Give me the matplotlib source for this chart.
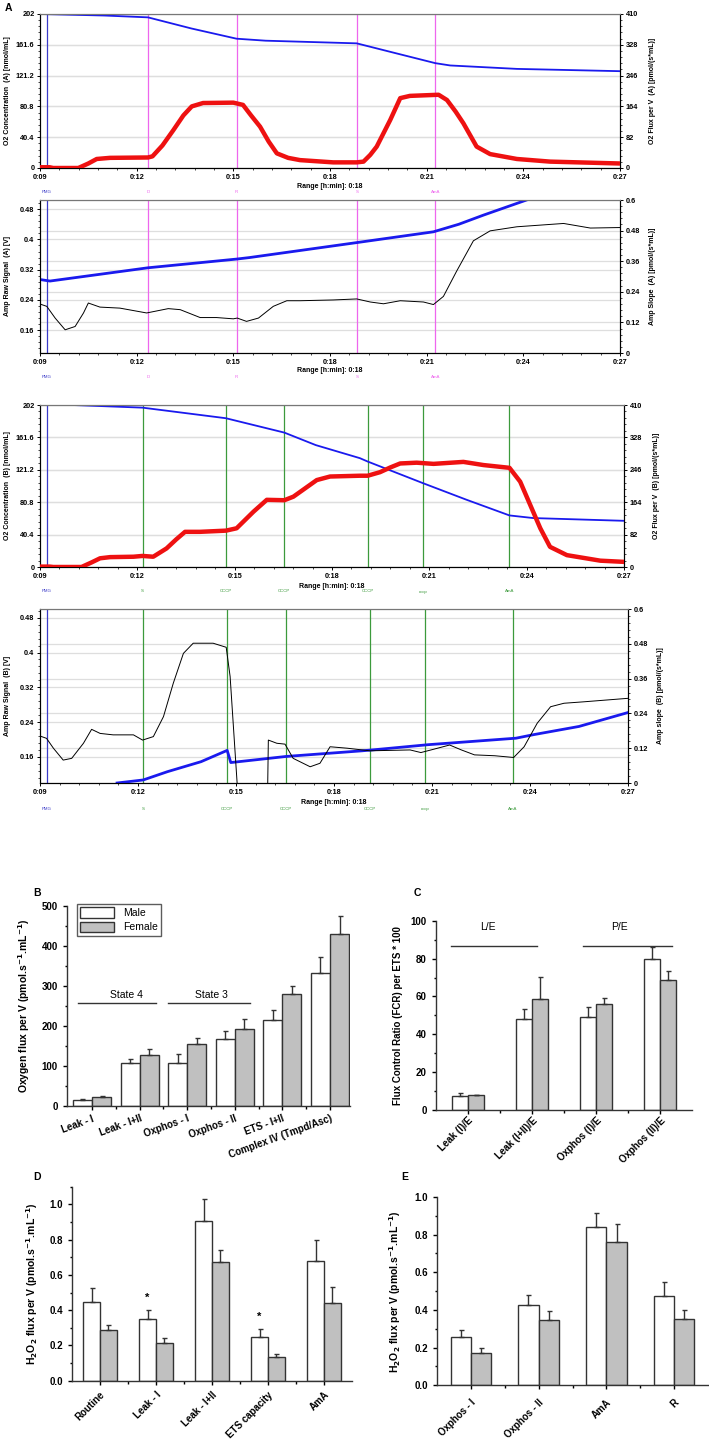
import numpy as np
import matplotlib.pyplot as plt
from matplotlib.ticker import MultipleLocator, AutoMinorLocator, FixedLocator
from matplotlib.transforms import ScaledTranslation, blended_transform_factory

plt.rcParams['font.family'] = ['Liberation Sans', 'DejaVu Sans']
plt.rcParams['font.weight'] = 'bold'
plt.rcParams['axes.labelweight'] = 'bold'
plt.rcParams['mathtext.default'] = 'bf'

# ---------------- panel A, chamber A ----------------
a_marks = ['PMG', 'D', 'R', 'S', 'AmA']
a_mark_t = [9.21, 12.35, 15.1, 18.83, 21.27]

a_o2_t = [9.0, 11.0, 12.35, 13.7, 15.1, 16.0, 18.83, 20.0, 21.27, 21.73, 23.8, 27.0]
a_o2 = [202, 200, 197.6, 183, 169.6, 167, 163.5, 151, 137.5, 134.5, 130, 127]

a_flux_t = [9.0, 9.3, 9.41, 10.19, 10.5, 10.76, 11.17, 12.35, 12.49, 12.8, 13.14, 13.45,
            13.71, 14.06, 15.0, 15.3, 15.55, 15.83, 16.1, 16.35, 16.7, 17.07, 18.1, 18.83,
            19.04, 19.25, 19.45, 19.87, 20.18, 20.48, 21.37, 21.63, 21.9, 22.14, 22.55,
            22.97, 23.8, 24.83, 27.0]
a_flux = [2, 2, 0, 0, 12, 24, 27, 28, 31, 60, 101, 140, 164, 173, 174, 168, 140, 110, 70,
          39, 27, 21, 15, 15, 17, 35, 57, 128, 186, 192, 195, 181, 150, 119, 57, 37, 24, 17, 12]

a_raw_t = [9.0, 9.31, 12.35, 15.1, 15.5, 18.87, 21.21, 22.0, 22.76, 24.1]
a_raw = [0.294, 0.29, 0.325, 0.348, 0.352, 0.392, 0.42, 0.44, 0.464, 0.504]

a_slope_t = [9.0, 9.21, 9.47, 9.78, 10.09, 10.35, 10.5, 10.86, 11.48, 12.31, 12.98, 13.35,
             13.97, 14.48, 15.0, 15.12, 15.41, 15.78, 16.24, 16.66, 17.07, 18.1, 18.83,
             19.25, 19.66, 20.18, 20.9, 21.21, 21.52, 21.93, 22.45, 22.97, 23.8, 25.25,
             26.08, 27.0]
a_slope = [0.192, 0.183, 0.137, 0.091, 0.104, 0.157, 0.196, 0.18, 0.176, 0.157, 0.174, 0.17,
           0.139, 0.139, 0.134, 0.137, 0.124, 0.137, 0.183, 0.205, 0.205, 0.208, 0.212,
           0.2, 0.193, 0.205, 0.2, 0.19, 0.222, 0.321, 0.44, 0.479, 0.495, 0.508, 0.49, 0.492]

# ---------------- panel A, chamber B ----------------
b_marks = ['PMG', 'S', 'CCCP', 'CCCP', 'CCCP', 'cccp', 'AmA']
b_mark_t = [9.21, 12.16, 14.73, 16.53, 19.1, 20.8, 23.47]

b_o2_t = [9.0, 10.0, 12.16, 14.73, 16.53, 17.5, 18.86, 19.1, 20.8, 22.15, 23.47, 24.21, 27.0]
b_o2 = [202, 202, 198.7, 185.5, 167.6, 152, 135.7, 131.5, 104.6, 83.8, 64.3, 61, 57.6]

b_flux_t = [9.0, 9.3, 9.41, 10.28, 10.6, 10.85, 11.16, 11.88, 12.16, 12.49, 12.9, 13.2,
            13.47, 13.93, 14.73, 15.06, 15.58, 15.99, 16.53, 16.81, 17.53, 17.94, 18.86,
            19.1, 19.48, 19.8, 20.1, 20.61, 21.13, 22.05, 22.67, 23.47, 23.8, 24.11, 24.42,
            24.72, 25.24, 26.27, 27.0]
b_flux = [1, 1, 0, 0, 12, 22, 25, 26, 28, 26, 47, 70, 89, 89, 92, 98, 140, 170, 169, 178,
          220, 229, 231, 231, 240, 252, 262, 264, 261, 266, 258, 251, 216, 157, 98, 51, 30, 16, 13]

b_raw_t = [11.36, 12.16, 12.9, 13.93, 14.73, 14.84, 16.53, 18.86, 19.17, 20.87, 23.57, 24.1,
           25.5, 27.0]
b_raw = [0.1, 0.107, 0.126, 0.149, 0.175, 0.147, 0.161, 0.174, 0.176, 0.188, 0.203, 0.211,
         0.23, 0.262]

b_slope_t = [9.0, 9.2, 9.41, 9.71, 9.97, 10.33, 10.58, 10.84, 11.24, 11.86, 12.14, 12.47,
             12.78, 13.08, 13.39, 13.69, 14.3, 14.7, 14.82, 15.04, 15.97, 15.99, 16.25, 16.5,
             16.75, 17.27, 17.57, 17.88, 18.4, 19.1, 20.33, 20.66, 20.97, 21.54, 21.9, 22.3,
             22.92, 23.5, 23.82, 24.22, 24.63, 25.04, 25.65, 27.0]
b_slope = [0.162, 0.154, 0.12, 0.079, 0.085, 0.137, 0.185, 0.171, 0.166, 0.166, 0.148, 0.16,
           0.229, 0.344, 0.447, 0.482, 0.482, 0.468, 0.367, -0.01, -0.01, 0.148, 0.137, 0.134,
           0.085, 0.056, 0.068, 0.125, 0.12, 0.111, 0.114, 0.105, 0.114, 0.131, 0.114, 0.097,
           0.094, 0.088, 0.125, 0.206, 0.263, 0.275, 0.28, 0.292]

time_ticks = [9, 12, 15, 18, 21, 24, 27]
time_labels = ['0:09', '0:12', '0:15', '0:18', '0:21', '0:24', '0:27']
o2_ticks = [0, 40.4, 80.8, 121.2, 161.6, 202]
flux_ticks = [0, 82, 164, 246, 328, 410]
raw_ticks = [0.16, 0.24, 0.32, 0.4, 0.48]
slope_ticks = [0, 0.12, 0.24, 0.36, 0.48, 0.6]

# ---------------- panel B ----------------
b_cats = ['Leak - I', 'Leak - I+II', 'Oxphos - I', 'Oxphos - II', 'ETS - I+II',
          'Complex IV (Tmpd/Asc)']
b_male = [15, 107, 108, 168, 214, 333]
b_male_err = [2, 10, 21, 20, 26, 39]
b_female = [22, 127, 155, 193, 279, 430]
b_female_err = [2, 15, 14, 24, 20, 45]

# ---------------- panel C ----------------
c_cats = ['Leak (I)/E', 'Leak (I+II)/E', 'Oxphos (I)/E', 'Oxphos (II)/E']
c_male = [7.3, 47.8, 49.2, 79.8]
c_male_err = [1.3, 5.7, 5.0, 6.2]
c_female = [7.5, 58.8, 56.0, 68.9]
c_female_err = [0.4, 11.7, 3.1, 4.6]

# ---------------- panel D ----------------
d_cats = ['Routine', 'Leak - I', 'Leak - I+II', 'ETS capacity', 'AmA']
d_male = [0.448, 0.351, 0.904, 0.25, 0.68]
d_male_err = [0.076, 0.05, 0.124, 0.041, 0.12]
d_female = [0.286, 0.212, 0.675, 0.134, 0.442]
d_female_err = [0.028, 0.03, 0.066, 0.019, 0.09]

# ---------------- panel E ----------------
e_cats = ['Oxphos - I', 'Oxphos - II', 'AmA', 'R']
e_male = [0.258, 0.425, 0.839, 0.474]
e_male_err = [0.034, 0.055, 0.074, 0.073]
e_female = [0.173, 0.347, 0.761, 0.354]
e_female_err = [0.025, 0.049, 0.096, 0.046]

h2o2_ticks = [0, 0.2, 0.4, 0.6, 0.8, 1.0]
h2o2_lbl = ['0.0', '0.2', '0.4', '0.6', '0.8', '1.0']

W, H = 709, 1445
fig = plt.figure(figsize=(W / 100, H / 100), dpi=100)


def rect(l, t, r, b):
    return [l / W, 1 - b / H, (r - l) / W, (b - t) / H]


def fig_text(x, y, s, **kw):
    fig.text(x / W, 1 - y / H, s, **kw)


def trace_panel(px, left, right, left_axis, right_axis, names, marks, mark_t, mark_col,
                range_dy, mark_dy):
    l, t, r, b = px
    hpx = b - t
    ax = fig.add_axes(rect(l, t, r, b))
    ax2 = ax.twinx()
    ax.set_xlim(9, 27)
    (lt, llim, llab), (rt, rlim, rlab) = left_axis, right_axis
    ax.set_ylim(*llim)
    ax2.set_ylim(*rlim)

    # grid of both y axes, drawn in the left axes so that traces sit on top
    for v in lt:
        ax.axhline(v, color='#dedede', lw=0.9, zorder=0)
    for v in rt:
        vl = llim[0] + (v - rlim[0]) / (rlim[1] - rlim[0]) * (llim[1] - llim[0])
        ax.axhline(vl, color='#dedede', lw=0.9, zorder=0)

    for tm, c in zip(mark_t, mark_col):
        ax.axvline(tm, color=c, lw=0.9, zorder=1)

    ax.plot(left[0], left[1], color=left[2], lw=left[3], zorder=3, solid_joinstyle='round')
    ax2.plot(right[0], right[1], color=right[2], lw=right[3], zorder=3,
             solid_joinstyle='round', solid_capstyle='round')

    ax.set_xticks(time_ticks)
    ax.set_xticklabels(time_labels)
    ax.xaxis.set_minor_locator(MultipleLocator(0.6))
    ax.yaxis.set_major_locator(FixedLocator(lt))
    ax.set_yticklabels(llab)
    ax.yaxis.set_minor_locator(AutoMinorLocator(5))
    ax2.yaxis.set_major_locator(FixedLocator(rt))
    ax2.set_yticklabels(rlab)
    ax2.yaxis.set_minor_locator(AutoMinorLocator(5))
    for a in (ax, ax2):
        a.tick_params(which='major', direction='out', length=2.5, width=0.7,
                      labelsize=5.3, pad=1.5)
        a.tick_params(which='minor', direction='out', length=1.3, width=0.5)
        for s in a.spines.values():
            s.set_linewidth(0.8)
        a.spines['top'].set_color('#777777')

    fig_text(8, (t + b) / 2, names[0], rotation=90, ha='center', va='center', fontsize=5)
    fig_text(r + 32, (t + b) / 2, names[1], rotation=90, ha='center', va='center', fontsize=5)

    trans = blended_transform_factory(ax.transData, ax.transAxes)
    ax.text(18, -range_dy / hpx, 'Range [h:min]: 0:18', transform=trans, ha='center',
            va='center', fontsize=5)
    for name, tm, c in zip(marks, mark_t, mark_col):
        ax.text(tm, -mark_dy / hpx, name, transform=trans, ha='center', va='center',
                fontsize=3.2, color=c, fontweight='normal')
    return ax


pmg = '#3a3ac8'
mag = '#ee66ee'
grn = '#3c9a3c'
blue = '#1a1aee'
red = '#ee1111'

o2_lbl = ['0', '40.4', '80.8', '121.2', '161.6', '202']
flux_lbl = ['0', '82', '164', '246', '328', '410']
raw_lbl = ['0.16', '0.24', '0.32', '0.4', '0.48']
slope_lbl = ['0', '0.12', '0.24', '0.36', '0.48', '0.6']

a_cols = [pmg] + [mag] * 4
b_cols = [pmg] + [grn] * 6

trace_panel((40, 14, 620, 168), (a_o2_t, a_o2, blue, 1.3), (a_flux_t, a_flux, red, 3.2),
            (o2_ticks, (0, 202), o2_lbl), (flux_ticks, (0, 410), flux_lbl),
            ('O2 Concentration  (A) [nmol/mL]', 'O2 Flux per V  (A) [pmol/(s*mL)]'),
            a_marks, a_mark_t, a_cols, 18.5, 24)
trace_panel((40, 200, 620, 353), (a_raw_t, a_raw, blue, 2.0), (a_slope_t, a_slope, 'black', 0.7),
            (raw_ticks, (0.1, 0.504), raw_lbl), (slope_ticks, (0, 0.6), slope_lbl),
            ('Amp Raw Signal  (A) [V]', 'Amp Slope  (A) [pmol/(s*mL)]'),
            a_marks, a_mark_t, a_cols, 17, 24)
trace_panel((40, 405, 624, 567), (b_o2_t, b_o2, blue, 1.3), (b_flux_t, b_flux, red, 3.2),
            (o2_ticks, (0, 202), o2_lbl), (flux_ticks, (0, 410), flux_lbl),
            ('O2 Concentration  (B) [nmol/mL]', 'O2 Flux per V  (B) [pmol/(s*mL)]'),
            b_marks, b_mark_t, b_cols, 19.5, 24.5)
trace_panel((40, 609, 628, 783), (b_raw_t, b_raw, blue, 2.0), (b_slope_t, b_slope, 'black', 0.7),
            (raw_ticks, (0.1, 0.5), raw_lbl), (slope_ticks, (0, 0.6), slope_lbl),
            ('Amp Raw Signal  (B) [V]', 'Amp slope  (B) [pmol/(s*mL)]'),
            b_marks, b_mark_t, b_cols, 20, 26)

fig_text(8, 8, 'A', fontsize=7.5, ha='center', va='center')


def bar_panel(px, cats, male, male_err, female, female_err, width, xlim, ymax, major, minor,
              ylabel, ylab_x, rot, lab_pad, xoff=0.0, ylab_size=7.5):
    l, t, r, b = px
    ax = fig.add_axes(rect(l, t, r, b))
    x = np.arange(len(cats))
    ax.bar(x - width / 2, male, width, color='white', edgecolor='#333333', linewidth=1,
           label='Male', zorder=2)
    ax.bar(x + width / 2, female, width, color='#c0c0c0', edgecolor='#333333', linewidth=1,
           label='Female', zorder=2)
    for xs, v, e in ((x - width / 2, male, male_err), (x + width / 2, female, female_err)):
        ax.errorbar(xs, v, yerr=[np.zeros(len(v)), e], fmt='none', ecolor='#333333',
                    elinewidth=1, capsize=1.8, capthick=1, zorder=3)
    ax.set_xlim(*xlim)
    ax.set_ylim(0, ymax)
    ax.yaxis.set_major_locator(MultipleLocator(major))
    ax.yaxis.set_minor_locator(MultipleLocator(minor))
    ax.set_xticks(x)
    ax.set_xticks(x[:-1] + 0.5, minor=True)
    ax.set_xticklabels(cats, rotation=rot, ha='right', rotation_mode='anchor')
    if xoff:
        for lab in ax.get_xticklabels():
            lab.set_transform(lab.get_transform() + ScaledTranslation(xoff, 0, fig.dpi_scale_trans))
    ax.tick_params(which='major', direction='out', length=3, width=1, labelsize=7)
    ax.tick_params(which='minor', direction='out', length=1.8, width=1)
    ax.tick_params(axis='x', which='major', pad=lab_pad)
    for s in ('top', 'right'):
        ax.spines[s].set_visible(False)
    for s in ('left', 'bottom'):
        ax.spines[s].set_linewidth(1)
        ax.spines[s].set_color('#333333')
    ax.set_ylabel(ylabel, fontsize=ylab_size)
    ax.yaxis.set_label_coords(ylab_x, 0.5)
    return ax


o2unit = 'Oxygen flux per V (pmol.s$^{\\mathbf{-1}}$.mL$^{\\mathbf{-1}}$)'
h2o2unit = 'H$_{\\mathbf{2}}$O$_{\\mathbf{2}}$ flux per V (pmol.s$^{\\mathbf{-1}}$.mL$^{\\mathbf{-1}}$)'

axb = bar_panel((67, 906, 350, 1106), b_cats, b_male, b_male_err, b_female, b_female_err, 0.4,
                (-0.525, 5.42), 500, 100, 50, o2unit, -0.125, 20, 2.5, xoff=0.18)
axb.legend(loc='upper left', bbox_to_anchor=(0.035, 1.01), frameon=True, fancybox=False,
           edgecolor='#333333', prop={'size': 7.5, 'weight': 'normal'}, handlelength=3.3,
           handleheight=1.2, borderpad=0.3, labelspacing=0.35, handletextpad=0.8,
           borderaxespad=0)
axb.get_legend().get_frame().set_linewidth(1)
axb.plot([-0.29, 1.34], [257, 257], color='#333333', lw=1)
axb.plot([1.6, 3.31], [257, 257], color='#333333', lw=1)
axb.text(0.73, 278, 'State 4', ha='center', va='center', fontsize=7.5, fontweight='normal')
axb.text(2.51, 278, 'State 3', ha='center', va='center', fontsize=7.5, fontweight='normal')
fig_text(37, 893, 'B', fontsize=7.5, ha='center', va='center')

axc = bar_panel((436, 921, 692, 1109.5), c_cats, c_male, c_male_err, c_female, c_female_err,
                0.25, (-0.5, 3.5), 100, 20, 10, 'Flux Control Ratio (FCR) per ETS * 100',
                -0.13, 45, 1.0, ylab_size=7)
axc.plot([-0.27, 1.08], [86.9, 86.9], color='#333333', lw=1)
axc.plot([1.8, 3.19], [86.9, 86.9], color='#333333', lw=1)
axc.text(0.31, 96.8, 'L/E', ha='center', va='center', fontsize=7.5, fontweight='normal')
axc.text(2.37, 96.8, 'P/E', ha='center', va='center', fontsize=7.5, fontweight='normal')
fig_text(417, 893, 'C', fontsize=7.5, ha='center', va='center')

axd = bar_panel((72, 1186.7, 352, 1380.7), d_cats, d_male, d_male_err, d_female, d_female_err,
                0.3, (-0.5, 4.5), 1.1, 0.2, 0.1, h2o2unit, -0.115, 45, 3.5)
axd.set_yticks(h2o2_ticks)
axd.set_yticklabels(h2o2_lbl)
axd.text(1 - 0.15, 0.47, '*', ha='center', va='center', fontsize=8)
axd.text(3 - 0.15, 0.36, '*', ha='center', va='center', fontsize=8)
fig_text(37, 1177, 'D', fontsize=7.5, ha='center', va='center')

axe = bar_panel((437, 1197, 708, 1385.3), e_cats, e_male, e_male_err, e_female, e_female_err,
                0.3, (-0.5, 3.5), 1.0, 0.2, 0.1, h2o2unit, -0.125, 45, 5.5)
axe.set_yticks(h2o2_ticks)
axe.set_yticklabels(h2o2_lbl)
fig_text(405, 1177, 'E', fontsize=7.5, ha='center', va='center')

fig.savefig('out.png', dpi=100)
